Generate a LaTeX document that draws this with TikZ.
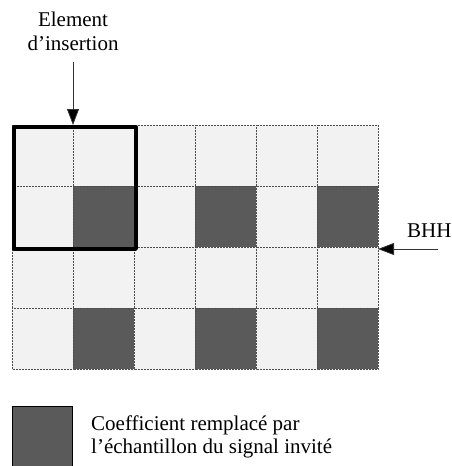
\documentclass[tikz,border=0pt]{standalone}
\usepackage{fontspec}
\setmainfont{Liberation Serif}
\usetikzlibrary{arrows.meta}
\begin{document}
\begin{tikzpicture}[x=1pt,y=-1pt,
  cellL/.style={fill=lightcell,draw=black!70,densely dotted,line width=0.5pt},
  cellD/.style={fill=darkcell,draw=black!70,densely dotted,line width=0.5pt},
  lbl/.style={font=\fontsize{21}{24}\selectfont,inner sep=0pt},
  ptr/.style={draw=black!80,line width=0.8pt,-{Triangle[length=16pt,width=12pt,fill=black]}},
  bold/.style={draw=black,line width=3.8pt,line join=round}]
\definecolor{lightcell}{HTML}{F2F2F2}
\definecolor{darkcell}{HTML}{5A5A5A}
\useasboundingbox (0,0) rectangle (452,466);
% grid
\foreach \r in {0,...,3}{
  \foreach \c in {0,...,5}{
    \pgfmathtruncatemacro{\isdark}{(mod(\r,2)==1) && (mod(\c,2)==1)}
    \ifnum\isdark=1
      \path[cellD] (12+61*\c,125+61*\r) rectangle ++(61,61);
    \else
      \path[cellL] (12+61*\c,125+61*\r) rectangle ++(61,61);
    \fi
  }
}
\node[bold,minimum width=122pt,minimum height=122pt,inner sep=0pt,anchor=north west] (box) at (12,125) {};
\coordinate (boxtop) at (73,125);
\coordinate (gridR) at (378,249);
% labels
\node[lbl,anchor=base] (elemA) at (73,26) {Element};
\node[lbl,anchor=base] (elemB) at (73,50) {d’insertion};
\coordinate (elemtail) at (73,62);
\draw[ptr] (elemtail) -- (boxtop);
\node[lbl,anchor=base west] (bhh) at (407,237) {BHH};
\coordinate (bhhtail) at (438,249);
\draw[ptr] (bhhtail) -- (gridR);
% legend
\node[fill=darkcell,draw=black,line width=0.6pt,minimum width=60pt,minimum height=60pt,inner sep=0pt,anchor=north west] (leg) at (12,406) {};
\node[lbl,anchor=base west] (legA) at (91,430) {Coefficient remplacé par};
\node[lbl,anchor=base west] (legB) at (91,453) {l’échantillon du signal invité};
\end{tikzpicture}
\end{document}
